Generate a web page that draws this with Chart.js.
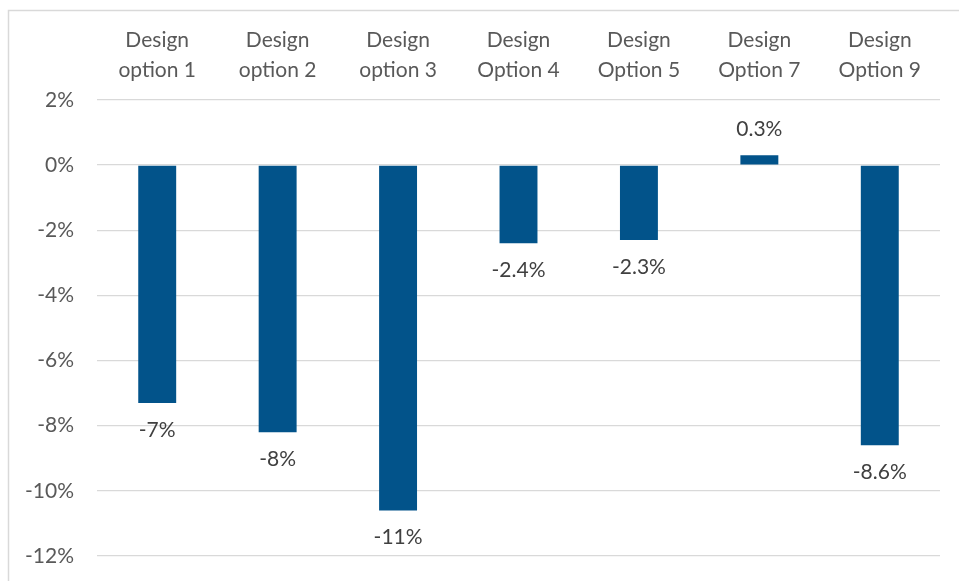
<!DOCTYPE html>
<html>
<head>
<meta charset="utf-8">
<script src="https://cdn.jsdelivr.net/npm/chart.js@4"></script>
<style>
  body { margin: 0; background: #fff; }
  #wrap { width: 959px; height: 581px; position: relative; }
</style>
</head>
<body>
<div id="wrap"><canvas id="myChart"></canvas></div>
<script>
const categories = [
    ['Design', 'option 1'],
    ['Design', 'option 2'],
    ['Design', 'option 3'],
    ['Design', 'Option 4'],
    ['Design', 'Option 5'],
    ['Design', 'Option 7'],
    ['Design', 'Option 9']
];
const values = [-7.3, -8.2, -10.6, -2.4, -2.3, 0.3, -8.6];
// digits shown in each bar's value label
const labelDecimals = [0, 0, 0, 1, 1, 1, 1];
const yTicks = [-12, -10, -8, -6, -4, -2, 0, 2];

const FONT = 'Lato';
const ctx = document.getElementById('myChart').getContext('2d');

// light grey frame of the chart panel
const panel = {
    id: 'panel',
    beforeDraw(chart) {
        const c = chart.ctx;
        c.save();
        c.strokeStyle = '#d9d9d9';
        c.lineWidth = 1.5;
        c.beginPath();
        c.moveTo(8.5, 600); c.lineTo(8.5, 10.5); c.lineTo(970, 10.5);
        c.stroke();
        c.restore();
    }
};

// value labels under negative bars, above positive ones
const valueLabels = {
    id: 'valueLabels',
    afterDatasetsDraw(chart) {
        const c = chart.ctx;
        const meta = chart.getDatasetMeta(0);
        c.save();
        c.font = '21px ' + FONT;
        c.fillStyle = '#404040';
        c.textAlign = 'center';
        c.textBaseline = 'middle';
        meta.data.forEach((bar, i) => {
            const v = values[i];
            const txt = v.toFixed(labelDecimals[i]) + '%';
            const y = v < 0 ? bar.y + 27 : bar.y - 26;
            c.fillText(txt, bar.x, y);
        });
        c.restore();
    }
};

new Chart(ctx, {
    type: 'bar',
    data: {
        labels: categories,
        datasets: [{
            data: values,
            backgroundColor: '#02538a',
            borderWidth: 0,
            barPercentage: 1,
            categoryPercentage: 0.315
        }]
    },
    options: {
        responsive: true,
        maintainAspectRatio: false,
        animation: false,
        layout: { padding: { left: 0, top: 0, right: 19, bottom: 25 } },
        plugins: {
            legend: { display: false },
            tooltip: { enabled: false }
        },
        scales: {
            x: {
                position: 'top',
                grid: { display: false, drawTicks: false },
                border: { display: false },
                ticks: {
                    color: '#595959',
                    font: { family: FONT, size: 21, lineHeight: 1.43 },
                    padding: 15,
                    maxRotation: 0,
                    autoSkip: false
                },
                afterFit: scale => { scale.height = 100; }
            },
            y: {
                min: -12,
                max: 2,
                afterBuildTicks: scale => { scale.ticks = yTicks.map(v => ({ value: v })); },
                grid: { color: '#d9d9d9', lineWidth: 1.3, drawTicks: false },
                border: { display: false },
                ticks: {
                    color: '#595959',
                    font: { family: FONT, size: 21 },
                    padding: 23,
                    callback: v => v + '%'
                },
                afterFit: scale => {
                    scale.width = 97;
                    scale.paddingTop = 0;
                    scale.paddingBottom = 0;
                }
            }
        }
    },
    plugins: [panel, valueLabels]
});
</script>
</body>
</html>
